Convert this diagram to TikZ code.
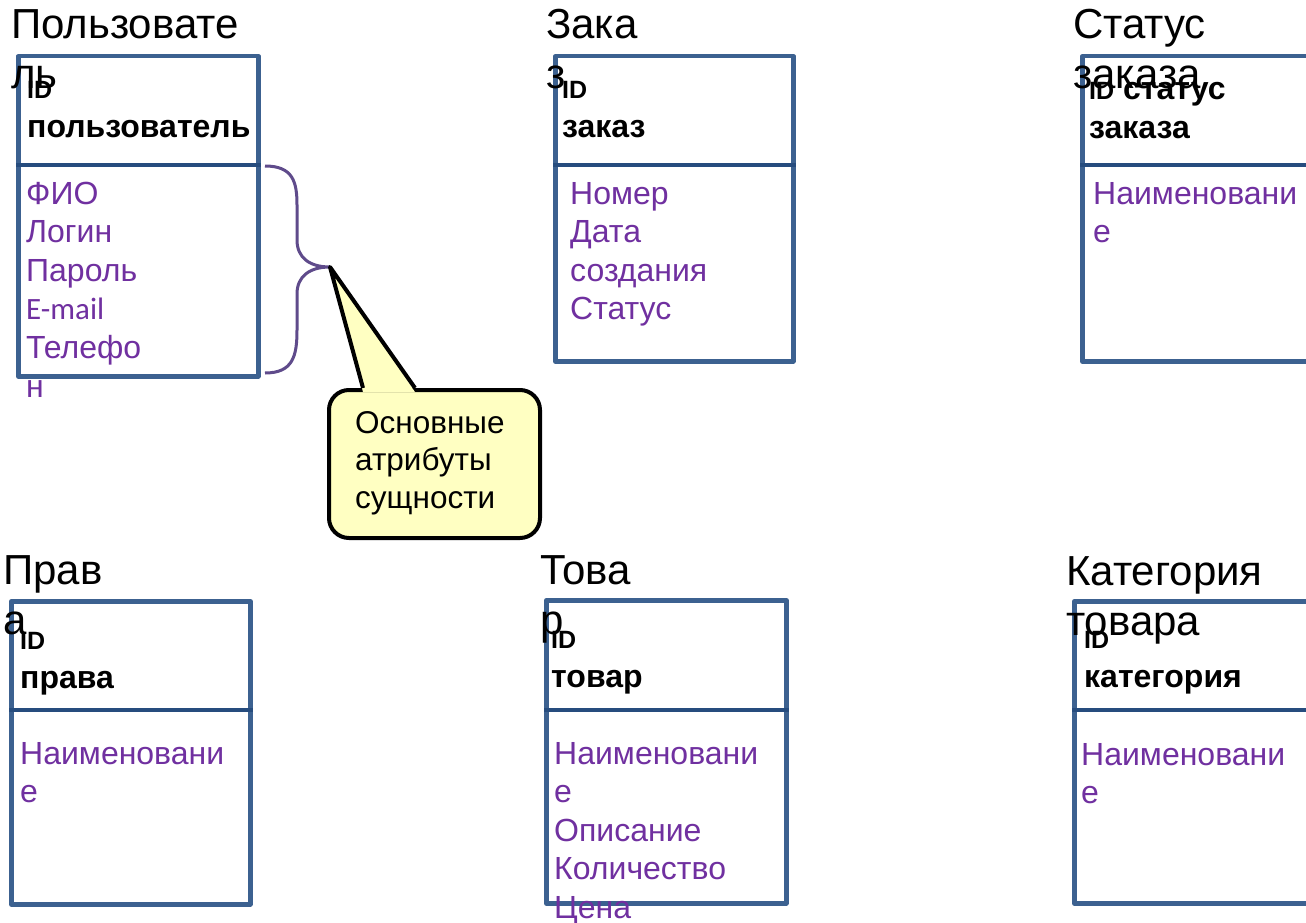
\documentclass[tikz,border=0pt]{standalone}
\usepackage{fontspec}
\setmainfont{Liberation Sans}
\newfontfamily\mailfont{Carlito}

\definecolor{boxblue}{RGB}{60,97,144}
\definecolor{rulerblue}{RGB}{38,76,126}
\definecolor{attrpurple}{RGB}{112,48,160}
\definecolor{bracepurple}{RGB}{95,75,139}
\definecolor{notefill}{RGB}{255,255,194}

% left-aligned block of lines whose baseline is that of its first line
\newcommand\linestack[1]{\vtop{\halign{##\hfil\cr#1\crcr}}}
\newcommand\idsmall{{\fontsize{25}{28}\selectfont ID}}

\tikzset{
  title/.style={anchor=base west, inner sep=0pt, font=\fontsize{42}{50}\selectfont},
  head/.style={anchor=base west, inner sep=0pt, font=\bfseries\fontsize{32}{39}\selectfont},
  attr/.style={anchor=base west, inner sep=0pt, text=attrpurple, font=\fontsize{32}{38.6}\selectfont},
  entity/.style={draw=boxblue, line width=4.5pt, line join=round, anchor=north west,
    inner sep=0pt, minimum width=240pt},
  divider/.style={draw=rulerblue, line width=4.5pt},
  brace/.style={draw=bracepurple, line width=3pt},
  notebox/.style={draw=black, fill=notefill, line width=4pt, rounded corners=20pt,
    anchor=north west, inner sep=0pt, minimum width=211pt, minimum height=148pt},
  notetext/.style={anchor=base west, inner sep=0pt, font=\fontsize{31.5}{37.5}\selectfont},
}

\begin{document}
\begin{tikzpicture}[x=1pt, y=-1pt]
\clip (0,0) rectangle (1306,923);
\fill[white] (0,0) rectangle (1306,923);

% entity frames
\node[entity, minimum height=320pt] (user) at (16,54) {};
\node[entity, minimum height=305pt, minimum width=238pt] (order) at (553,54) {};
\node[entity, minimum height=305pt] (status) at (1080,54) {};
\node[entity, minimum height=303pt, minimum width=239pt] (rights) at (9,599) {};
\node[entity, minimum height=303pt] (product) at (544,598) {};
\node[entity, minimum height=302pt] (category) at (1072,599) {};

% key / attribute dividers
\foreach \e in {user,order,status,rights,category}
  \draw[divider] ([yshift=-111pt]\e.north west) -- ([yshift=-111pt]\e.north east);
\draw[divider] ([yshift=-112pt]product.north west) -- ([yshift=-112pt]product.north east);

% entity titles
\node[title] (userT) at (11,39) {\linestack{Пользовате\cr ль}};
\node[title] (orderT) at (546,39) {\linestack{Зака\cr з}};
\node[title] (statusT) at (1073,39) {\linestack{Статус\cr заказа}};
\node[title] (rightsT) at (3,584) {\linestack{Прав\cr а}};
\node[title] (productT) at (540,584) {\linestack{Това\cr р}};
\node[title] (categoryT) at (1066,585) {\linestack{Категория\cr товара}};

% key fields
\node[head] (userK) at (27,99) {\linestack{\idsmall\cr пользователь}};
\node[head] (orderK) at (562,99) {\linestack{\idsmall\cr заказ}};
\node[head] (statusK) at (1089,100) {\linestack{\idsmall{} статус\cr заказа}};
\node[head] (rightsK) at (20,649) {\linestack{\idsmall\cr права}};
\node[head] (productK) at (551,648) {\linestack{\idsmall\cr товар}};
\node[head] (categoryK) at (1084,648) {\linestack{\idsmall\cr категория}};

% attributes
\node[attr] (userA) at (26,204) {\linestack{ФИО\cr Логин\cr Пароль\cr {\mailfont\fontsize{31}{33}\selectfont E-mail}\cr Телефо\cr н}};
\node[attr] (orderA) at (570,204) {\linestack{Номер\cr Дата\cr создания\cr Статус}};
\node[attr] (statusA) at (1093,204) {\linestack{Наименовани\cr е}};
\node[attr] (rightsA) at (20,764) {\linestack{Наименовани\cr е}};
\node[attr] (productA) at (554,764) {\linestack{Наименовани\cr е\cr Описание\cr Количество\cr Цена}};
\node[attr] (categoryA) at (1081,765) {\linestack{Наименовани\cr е}};

% brace over the user attributes
\coordinate (tip) at (330,267);
\draw[brace] (265,166) .. controls (293,166) and (297,182) .. (297,205)
  -- (297,240) .. controls (297,258) and (310,267) .. (tip)
  .. controls (310,267) and (297,276) .. (297,294)
  -- (297,330) .. controls (297,356) and (293,373) .. (265,373);

% callout
\node[notebox] (note) at (327,388) {};
\fill[notefill] ([xshift=36pt,yshift=-4pt]note.north west) -- (tip) -- ([xshift=88pt,yshift=-4pt]note.north west) -- cycle;
\draw[line width=4pt, line join=round] ([xshift=36pt]note.north west) -- (tip) -- ([xshift=88pt]note.north west);
\node[notetext] (noteT) at (355,433) {\linestack{Основные\cr атрибуты\cr сущности}};
\end{tikzpicture}
\end{document}
